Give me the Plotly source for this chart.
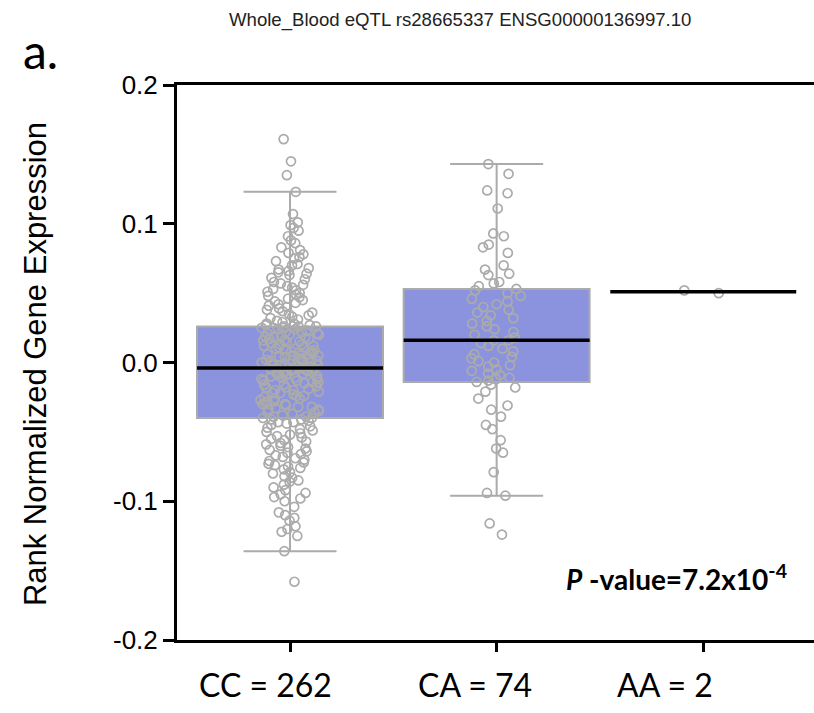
import plotly.graph_objects as go

# Genotype groups
categories = ["CC", "CA", "AA"]
group_sizes = [262, 74, 2]

# Box summary statistics (CC, CA)
box_q1 = [-0.040, -0.014]
box_median = [-0.004, 0.016]
box_q3 = [0.026, 0.053]
box_lower = [-0.136, -0.096]
box_upper = [0.123, 0.143]

# Medians drawn as black bars for every group
group_medians = [-0.004, 0.016, 0.051]

# Per-sample rank normalized expression
cc_values = [
    0.161, 0.145, 0.135, 0.123, 0.107, 0.101, 0.099, 0.097, 0.095, 0.091,
    0.088, 0.086, 0.083, 0.081, 0.079, 0.078, 0.076, 0.075, 0.073, 0.071,
    0.070, 0.068, 0.067, 0.066, 0.065, 0.064, 0.063, 0.061, 0.060, 0.058,
    0.057, 0.056, 0.055, 0.054, 0.053, 0.052, 0.051, 0.050, 0.049, 0.048,
    0.047, 0.046, 0.045, 0.044, 0.043, 0.042, 0.041, 0.040, 0.039, 0.038,
    0.037, 0.036, 0.035, 0.034, 0.033, 0.032, 0.031, 0.030, 0.029, 0.028,
    0.028, 0.027, 0.027, 0.026, 0.026,
    -0.003, -0.003, -0.003, -0.002, -0.002, -0.002, -0.001, -0.001, -0.001, 0.000,
    0.000, 0.000, 0.001, 0.001, 0.001, 0.002, 0.002, 0.002, 0.003, 0.003,
    0.004, 0.004, 0.005, 0.005, 0.006, 0.006, 0.007, 0.007, 0.008, 0.008,
    0.009, 0.009, 0.010, 0.010, 0.011, 0.011, 0.012, 0.012, 0.013, 0.013,
    0.014, 0.015, 0.015, 0.016, 0.016, 0.017, 0.017, 0.018, 0.018, 0.019,
    0.019, 0.020, 0.020, 0.021, 0.021, 0.022, 0.022, 0.023, 0.023, 0.024,
    0.024, 0.025, 0.025, 0.025, 0.026, 0.026,
    -0.040, -0.039, -0.039, -0.038, -0.037, -0.036, -0.036, -0.035, -0.034, -0.034,
    -0.033, -0.032, -0.032, -0.031, -0.030, -0.030, -0.029, -0.028, -0.028, -0.027,
    -0.026, -0.026, -0.025, -0.024, -0.024, -0.023, -0.022, -0.022, -0.021, -0.020,
    -0.020, -0.019, -0.018, -0.018, -0.017, -0.016, -0.016, -0.015, -0.014, -0.014,
    -0.013, -0.013, -0.012, -0.012, -0.011, -0.011, -0.010, -0.010, -0.009, -0.009,
    -0.008, -0.008, -0.008, -0.007, -0.007, -0.007, -0.006, -0.006, -0.006, -0.005,
    -0.005, -0.005, -0.005, -0.004, -0.004, -0.004,
    -0.158, -0.136, -0.125, -0.122, -0.120, -0.118, -0.114, -0.112, -0.110, -0.108,
    -0.104, -0.100, -0.098, -0.097, -0.095, -0.094, -0.092, -0.090, -0.088, -0.086,
    -0.085, -0.083, -0.082, -0.080, -0.079, -0.077, -0.076, -0.075, -0.074, -0.073,
    -0.072, -0.071, -0.070, -0.069, -0.068, -0.067, -0.066, -0.065, -0.064, -0.063,
    -0.062, -0.061, -0.060, -0.059, -0.058, -0.057, -0.056, -0.055, -0.054, -0.053,
    -0.052, -0.051, -0.050, -0.049, -0.048, -0.047, -0.046, -0.045, -0.044, -0.043,
    -0.043, -0.042, -0.041, -0.041, -0.040,
]
ca_values = [
    0.143, 0.136, 0.124, 0.122, 0.111, 0.093, 0.091, 0.085, 0.083, 0.079,
    0.070, 0.067, 0.064, 0.063, 0.058, 0.057, 0.055, 0.053,
    0.016, 0.018, 0.020, 0.022, 0.024, 0.026, 0.028, 0.030, 0.032, 0.034,
    0.036, 0.038, 0.040, 0.042, 0.044, 0.046, 0.048, 0.050, 0.052,
    -0.013, -0.012, -0.011, -0.009, -0.008, -0.006, -0.005, -0.003, -0.002, 0.000,
    0.001, 0.003, 0.004, 0.006, 0.008, 0.010, 0.012, 0.014, 0.016,
    -0.124, -0.116, -0.096, -0.094, -0.079, -0.065, -0.062, -0.056, -0.048, -0.045,
    -0.039, -0.034, -0.031, -0.026, -0.021, -0.018, -0.016, -0.014,
]
aa_values = [0.052, 0.050]
group_values = [cc_values, ca_values, aa_values]

y_ticks = [-0.2, -0.1, 0.0, 0.1, 0.2]
y_tick_labels = ["-0.2", "-0.1", "0.0", "0.1", "0.2"]

BOX_WIDTH = 0.9
BOX_FILL = "#8b93de"
GREY = "#ababab"

fig = go.Figure()

# Boxes with whiskers from the summary statistics
fig.add_trace(go.Box(
    x=[0, 1], q1=box_q1, median=box_median, q3=box_q3,
    lowerfence=box_lower, upperfence=box_upper,
    width=BOX_WIDTH, whiskerwidth=0.5,
    fillcolor=BOX_FILL, line=dict(color=GREY, width=2),
    boxpoints=False, showlegend=False, hoverinfo="skip",
))

# Jittered sample points (box outline hidden)
for i, vals in enumerate(group_values):
    fig.add_trace(go.Box(
        x=[i] * len(vals), y=vals, width=BOX_WIDTH,
        boxpoints="all", jitter=0.32, pointpos=0,
        fillcolor="rgba(0,0,0,0)", line=dict(color="rgba(0,0,0,0)", width=0),
        marker=dict(symbol="circle-open", size=9, color=GREY,
                    line=dict(width=1.7, color=GREY)),
        showlegend=False,
    ))

# Median bars
mx, my = [], []
for i, m in enumerate(group_medians):
    mx += [i - BOX_WIDTH / 2, i + BOX_WIDTH / 2, None]
    my += [m, m, None]
fig.add_trace(go.Scatter(x=mx, y=my, mode="lines",
                         line=dict(color="black", width=3.5),
                         showlegend=False, hoverinfo="skip"))

annotations = [
    dict(text="Whole_Blood eQTL rs28665337 ENSG00000136997.10",
         xref="paper", yref="paper", x=0.444, y=1.117,
         xanchor="center", yanchor="middle", showarrow=False,
         font=dict(family="Liberation Sans", size=18.6, color="#222222")),
    dict(text="a.", xref="paper", yref="paper", x=-0.214, y=1.062,
         xanchor="center", yanchor="middle", showarrow=False,
         font=dict(family="Lato", size=48, color="black")),
    dict(text="Rank Normalized Gene Expression", textangle=-90,
         xref="paper", yref="paper", x=-0.223, y=0.497,
         xanchor="center", yanchor="middle", showarrow=False,
         font=dict(family="Liberation Sans", size=31, color="black")),
    dict(text="<b><i>P</i> -value=7.2x10<sup>-4</sup></b>",
         xref="paper", yref="paper", x=0.607, y=0.112,
         xanchor="left", yanchor="middle", showarrow=False,
         font=dict(family="Lato", size=28, color="black")),
]
label_shift = [-25, -22, -38]
for i, (cat, n) in enumerate(zip(categories, group_sizes)):
    annotations.append(dict(
        text=f"{cat} = {n}", xref="x", yref="paper", x=i, y=-0.081,
        xshift=label_shift[i], xanchor="center", yanchor="middle",
        showarrow=False, font=dict(family="Lato", size=32, color="black")))

fig.update_layout(
    width=814, height=713,
    margin=dict(l=177, r=0, t=85, b=73),
    paper_bgcolor="white", plot_bgcolor="white",
    boxmode="overlay",
    annotations=annotations,
    xaxis=dict(range=[-0.547, 2.536], tickvals=[0, 1, 2], showticklabels=False,
               ticks="outside", ticklen=9, tickwidth=3, tickcolor="black",
               showline=True, linewidth=3, linecolor="black", mirror=True,
               showgrid=False, zeroline=False),
    yaxis=dict(range=[-0.2, 0.2], tickvals=y_ticks, ticktext=y_tick_labels,
               ticks="outside", ticklen=11, tickwidth=3, tickcolor="black",
               showline=True, linewidth=3, linecolor="black",
               showgrid=False, zeroline=False,
               tickfont=dict(family="Liberation Sans", size=26, color="black")),
)

fig.write_html("out.html")
